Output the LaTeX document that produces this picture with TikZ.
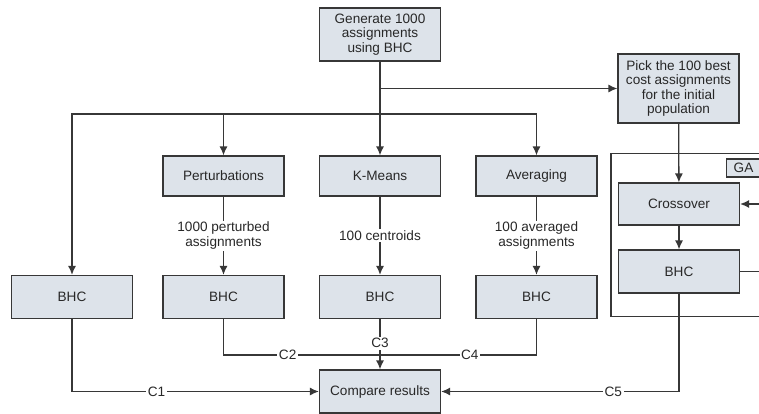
\documentclass[tikz,border=0pt]{standalone}
\usepackage{fontspec}
\setmainfont{Liberation Sans}
\usetikzlibrary{arrows.meta}
\definecolor{boxfill}{RGB}{221,227,234}
\definecolor{linegray}{RGB}{55,55,55}
\definecolor{textgray}{RGB}{40,40,40}
\tikzset{>={Latex[length=9pt,width=8pt]}}

\begin{document}
\begin{tikzpicture}[x=1pt, y=-1pt, color=linegray, line width=1.3pt, font=\fontsize{13.6}{14.6}\selectfont, text=textgray]
                        % box = step of the method, lbl = text sitting on a connector
                        \tikzstyle{box}=[rectangle, draw=linegray, fill=boxfill, line width=1.2pt, minimum width=121pt, align=center, inner sep=2pt]
                        \tikzstyle{lbl}=[fill=white, inner sep=1.5pt, align=center]
                        \useasboundingbox (0,0) rectangle (759,414);
                        \clip (0,0) rectangle (759,414);

                        \node[box, minimum height=53pt] (gen) at (380, 34.5) {Generate 1000\\assignments\\using BHC};
                        \node[box, minimum height=69pt] (pick) at (678.5, 88.5) {Pick the 100 best\\cost assignments\\for the initial\\population};

                        \node[box, minimum height=40pt] (pert) at (223.5, 176) {Perturbations};
                        \node[box, minimum height=40pt] (kmeans) at (380, 176) {K-Means};
                        \node[box, minimum height=40pt] (avg) at (536.5, 176) {Averaging};

                        \node[box, minimum height=43pt] (bhcA) at (72, 297) {BHC};
                        \node[box, minimum height=43pt] (bhcB) at (223.5, 297) {BHC};
                        \node[box, minimum height=43pt] (bhcC) at (380, 297) {BHC};
                        \node[box, minimum height=43pt] (bhcD) at (536.5, 297) {BHC};

                        \node[box, minimum height=43pt] (cmp) at (380, 391.5) {Compare results};

                        % GA loop
                        \draw (611, 153.5) rectangle (790, 316.5);
                        \node[box, minimum width=34pt, minimum height=18pt, inner sep=0pt] (galbl) at (743.5, 168) {GA};
                        \node[box, minimum height=42pt] (cross) at (679, 204) {Crossover};
                        \node[box, minimum height=43pt] (gabhc) at (679, 271.5) {BHC};
                        \coordinate (loopR) at (790, 238);

                        \coordinate (fork) at (380, 114);
                        \coordinate (tap) at (gen |- pick.west);
                        \coordinate (merge) at (380, 355);

                        \draw[->] (gen) -- (kmeans);
                        \draw[->] (tap) -- (pick.west);
                        \draw[->] (fork) -| (bhcA);
                        \draw[->] (fork) -| (pert);
                        \draw[->] (fork) -| (avg);

                        \draw[->] (pert) -- node[lbl] {1000 perturbed\\assignments} (bhcB);
                        \draw[->] (kmeans) -- node[lbl] {100 centroids} (bhcC);
                        \draw[->] (avg) -- node[lbl] {100 averaged\\assignments} (bhcD);

                        \draw[->] (pick) -- (cross);
                        \draw[->] (cross) -- (gabhc);
                        \draw[->] (gabhc.east) -| (loopR) |- (cross.east);

                        \draw[->] (bhcA) |- node[lbl, pos=0.671] {C1} (cmp.west);
                        \draw (bhcB) |- node[lbl, pos=0.705] {C2} (merge);
                        \draw[->] (bhcC) -- node[lbl, pos=0.48] {C3} (cmp);
                        \draw (bhcD) |- node[lbl, pos=0.713] {C4} (merge);
                        \draw[->] (gabhc) |- node[lbl, pos=0.638] {C5} (cmp.east);
                \end{tikzpicture}
\end{document}
